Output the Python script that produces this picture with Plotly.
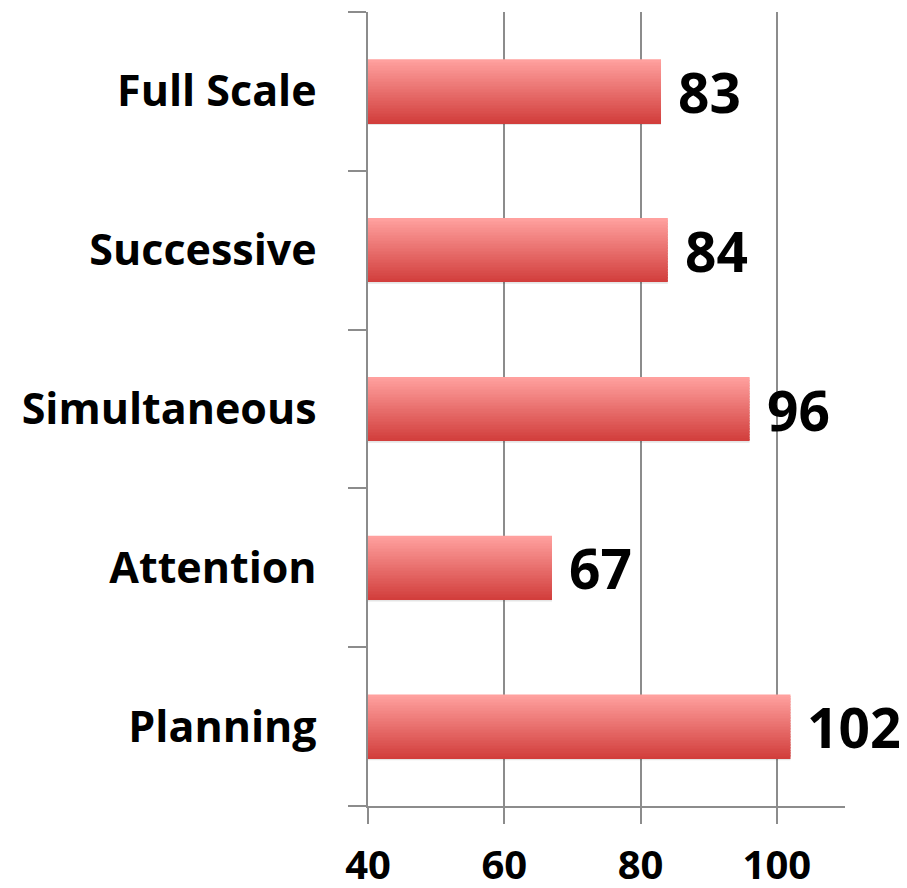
import plotly.graph_objects as go

categories = ["Planning", "Attention", "Simultaneous", "Successive", "Full Scale"]
values = [102, 67, 96, 84, 83]
x_ticks = [40, 60, 80, 100]
x_range = [40, 110]

FONT = "Open Sans"
BAR_W = 0.40
N = 40
top_rgb = (255, 160, 158)
bot_rgb = (210, 62, 60)

fig = go.Figure()

# subtle shadow
fig.add_trace(go.Bar(
    y=categories, x=values, orientation="h",
    width=BAR_W, offset=-BAR_W / 2 - 0.012,
    marker=dict(color="rgba(0,0,0,0.10)", line=dict(width=0)),
    hoverinfo="skip", showlegend=False,
))

# gradient bars made of thin slices
for i in range(N):
    t = i / (N - 1)  # 0 bottom -> 1 top
    r = int(bot_rgb[0] + (top_rgb[0] - bot_rgb[0]) * t)
    g = int(bot_rgb[1] + (top_rgb[1] - bot_rgb[1]) * t)
    b = int(bot_rgb[2] + (top_rgb[2] - bot_rgb[2]) * t)
    w = BAR_W / N
    fig.add_trace(go.Bar(
        y=categories, x=values, orientation="h",
        width=w * 1.2, offset=-BAR_W / 2 + i * w,
        marker=dict(color=f"rgb({r},{g},{b})", line=dict(width=0)),
        hoverinfo="skip", showlegend=False,
    ))

for c, v in zip(categories, values):
    fig.add_annotation(
        x=v, y=c, text=f"<b>{v}</b>", showarrow=False,
        xanchor="left", yanchor="middle", xshift=15,
        font=dict(family=FONT, size=55, color="black"),
    )

fig.update_layout(
    width=899, height=880, autosize=False,
    margin=dict(l=360, r=62, t=4, b=82),
    plot_bgcolor="white", paper_bgcolor="white",
    barmode="overlay",
    font=dict(family=FONT, color="black"),
    xaxis=dict(
        range=x_range, tickvals=x_ticks, ticktext=[f"<b>{t}</b>" for t in x_ticks],
        showgrid=True, gridcolor="#8c8c8c", gridwidth=1.5,
        zeroline=False, showline=True, linecolor="#8c8c8c", linewidth=1.5,
        ticks="outside", ticklen=16, tickwidth=1.5, tickcolor="#8c8c8c",
        tickfont=dict(family=FONT, size=40, color="black"),
        ticklabelstandoff=7,
        automargin=False,
        fixedrange=True,
    ),
    yaxis=dict(
        type="category", categoryorder="array", categoryarray=categories,
        tickson="boundaries", ticks="outside", ticklen=18, tickwidth=1.5, tickcolor="#8c8c8c",
        showline=True, linecolor="#8c8c8c", linewidth=1.5,
        showgrid=False, zeroline=False,
        ticktext=[f"<b>{c}</b>" for c in categories], tickvals=categories,
        tickfont=dict(family=FONT, size=43, color="black"),
        ticklabelstandoff=41,
        automargin=False,
        range=[-0.5, 4.5],
        fixedrange=True,
    ),
)

fig.write_html("out.html")
